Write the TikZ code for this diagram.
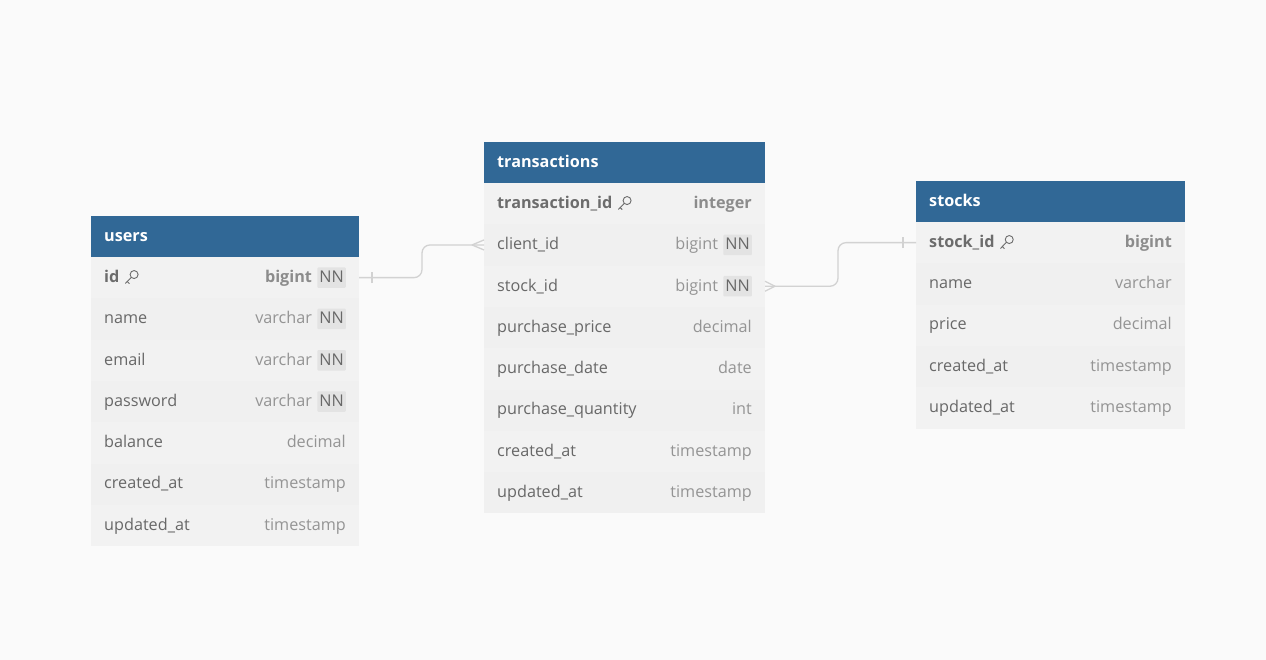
\documentclass[tikz,border=0pt]{standalone}
\usepackage{fontspec}
\setmainfont{Open Sans}
\definecolor{bgc}{HTML}{FAFAFA}
\definecolor{hdrblue}{HTML}{316896}
\definecolor{rowa}{HTML}{F2F2F2}
\definecolor{rowb}{HTML}{F0F0F0}
\definecolor{namec}{HTML}{686868}
\definecolor{typec}{HTML}{949494}
\definecolor{pkc}{HTML}{6C6C6C}
\definecolor{pktc}{HTML}{8C8C8C}
\definecolor{nnfill}{HTML}{E3E3E3}
\definecolor{connc}{HTML}{D2D2D2}
\newcommand\fs{\fontsize{16.2}{19}\selectfont}
\tikzset{
  hdr/.style={fill=hdrblue, draw=none, minimum height=41pt, anchor=north west, inner sep=0pt, outer sep=0pt},
  htext/.style={anchor=west, text=white, font=\bfseries\fs, inner sep=0pt, text height=13pt, text depth=3.5pt},
  rowbox/.style={draw=none, minimum height=41.3pt, anchor=north west, inner sep=0pt, outer sep=0pt},
  fname/.style={anchor=west, text=namec, font=\fs, inner sep=0pt, text height=13pt, text depth=3.5pt},
  ftype/.style={anchor=east, text=typec, font=\fs, inner sep=0pt, text height=13pt, text depth=3.5pt},
  nnbox/.style={anchor=east, fill=nnfill, text=namec, font=\fs, inner xsep=2pt, inner ysep=2pt, rounded corners=1pt, text height=13pt, text depth=3.5pt},
  conn/.style={draw=connc, line width=1.3pt},
  keyicon/.pic={
    \draw[pkc, line width=0.9pt] (9.5,-3.6) circle (4.0);
    \draw[pkc, line width=0.9pt, line cap=round] (6.7,-0.8) -- (0.8,5.2);
    \draw[pkc, line width=0.9pt, line cap=round] (2.6,3.4) -- (4.6,5.4);
  }
}
% #1 id, #2 x, #3 y, #4 w, #5 name, #6 type, #7 nn, #8 pk, #9 fill
\newcommand\errow[9]{%
  \node[rowbox, fill=#9, minimum width=#4pt] (#1) at (#2,#3) {};
  \ifnum#8=1
    \node[fname, font=\bfseries\fs, text=pkc] (#1-n) at ([xshift=13pt]#1.west) {#5};
    \pic at ([xshift=5pt,yshift=-0.5pt]#1-n.east) {keyicon};
  \else
    \node[fname] (#1-n) at ([xshift=13pt]#1.west) {#5};
  \fi
  \ifnum#7=1
    \node[nnbox] (#1-nn) at ([xshift=-13pt]#1.east) {NN};
    \ifnum#8=1
      \node[ftype, font=\bfseries\fs, text=pktc] (#1-t) at ([xshift=-5pt]#1-nn.west) {#6};
    \else
      \node[ftype] (#1-t) at ([xshift=-5pt]#1-nn.west) {#6};
    \fi
  \else
    \ifnum#8=1
      \node[ftype, font=\bfseries\fs, text=pktc] (#1-t) at ([xshift=-13pt]#1.east) {#6};
    \else
      \node[ftype] (#1-t) at ([xshift=-13pt]#1.east) {#6};
    \fi
  \fi
}
% #1 id, #2 x, #3 y, #4 w, #5 title
\newcommand\erhead[5]{%
  \node[hdr, minimum width=#4pt] (#1) at (#2,#3) {};
  \node[htext] (#1-title) at ([xshift=13pt]#1.west) {#5};
}
\begin{document}
\begin{tikzpicture}[x=1pt,y=-1pt]
\useasboundingbox[fill=bgc] (0,0) rectangle (1266,660);

% users
\erhead{users}{91}{216}{268}{users}
\errow{u-id}{91}{257}{268}{id}{bigint}{1}{1}{rowa}
\errow{u-name}{91}{298.3}{268}{name}{varchar}{1}{0}{rowb}
\errow{u-email}{91}{339.6}{268}{email}{varchar}{1}{0}{rowa}
\errow{u-pass}{91}{380.9}{268}{password}{varchar}{1}{0}{rowb}
\errow{u-bal}{91}{422.2}{268}{balance}{decimal}{0}{0}{rowa}
\errow{u-cr}{91}{463.5}{268}{created\_at}{timestamp}{0}{0}{rowb}
\errow{u-up}{91}{504.8}{268}{updated\_at}{timestamp}{0}{0}{rowa}

% transactions
\erhead{tx}{484}{142}{281}{transactions}
\errow{t-id}{484}{183}{281}{transaction\_id}{integer}{0}{1}{rowa}
\errow{t-client}{484}{224.3}{281}{client\_id}{bigint}{1}{0}{rowb}
\errow{t-stock}{484}{265.6}{281}{stock\_id}{bigint}{1}{0}{rowa}
\errow{t-price}{484}{306.9}{281}{purchase\_price}{decimal}{0}{0}{rowb}
\errow{t-date}{484}{348.2}{281}{purchase\_date}{date}{0}{0}{rowa}
\errow{t-qty}{484}{389.5}{281}{purchase\_quantity}{int}{0}{0}{rowb}
\errow{t-cr}{484}{430.8}{281}{created\_at}{timestamp}{0}{0}{rowa}
\errow{t-up}{484}{472.1}{281}{updated\_at}{timestamp}{0}{0}{rowb}

% stocks
\erhead{stocks}{916}{181}{269}{stocks}
\errow{s-id}{916}{222}{269}{stock\_id}{bigint}{0}{1}{rowa}
\errow{s-name}{916}{263.3}{269}{name}{varchar}{0}{0}{rowb}
\errow{s-price}{916}{304.6}{269}{price}{decimal}{0}{0}{rowa}
\errow{s-cr}{916}{345.9}{269}{created\_at}{timestamp}{0}{0}{rowb}
\errow{s-up}{916}{387.2}{269}{updated\_at}{timestamp}{0}{0}{rowa}

% connector users.id -> transactions.client_id
\draw[conn, rounded corners=8pt] (u-id.east) -- ++(63,0) |- (t-client.west);
\draw[conn] ([xshift=13pt,yshift=-5.5pt]u-id.east) -- ([xshift=13pt,yshift=5.5pt]u-id.east);
\draw[conn] ([xshift=-12pt]t-client.west) -- ([yshift=5pt]t-client.west);
\draw[conn] ([xshift=-12pt]t-client.west) -- ([yshift=-5pt]t-client.west);

% connector transactions.stock_id -> stocks.stock_id
\draw[conn, rounded corners=8pt] (t-stock.east) -- ++(73,0) |- (s-id.west);
\draw[conn] ([xshift=10pt]t-stock.east) -- ([yshift=5pt]t-stock.east);
\draw[conn] ([xshift=10pt]t-stock.east) -- ([yshift=-5pt]t-stock.east);
\draw[conn] ([xshift=-13pt,yshift=-5.5pt]s-id.west) -- ([xshift=-13pt,yshift=5.5pt]s-id.west);
\end{tikzpicture}
\end{document}
